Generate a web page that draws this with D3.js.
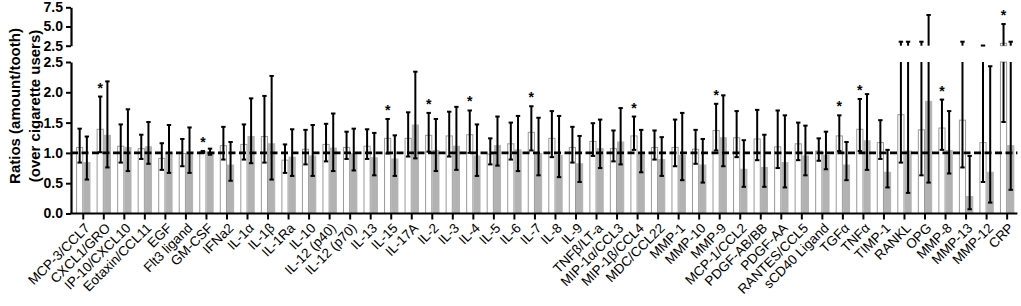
<!DOCTYPE html>
<html>
<head>
<meta charset="utf-8">
<script src="https://cdn.jsdelivr.net/npm/d3@7"></script>
<style>
  body { margin: 0; background: #fff; }
  svg { font-family: Arial, "Liberation Sans", sans-serif; }
</style>
</head>
<body>
<div id="chart"></div>
<script>
const categories = ["MCP-3/CCL7", "CXCL1/GRO", "IP-10/CXCL10", "Eotaxin/CCL11", "EGF", "Flt3 ligand",
  "GM-CSF", "IFNa2", "IL-1\u03b1", "IL-1\u03b2", "IL-1Ra", "IL-10", "IL-12 (p40)", "IL-12 (p70)", "IL-13",
  "IL-15", "IL-17A", "IL-2", "IL-3", "IL-4", "IL-5", "IL-6", "IL-7", "IL-8", "IL-9", "TNF\u03b2/LT-a",
  "MIP-1\u03b1/CCL3", "MIP-1\u03b2/CCL4", "MDC/CCL22", "MMP-1", "MMP-10", "MMP-9", "MCP-1/CCL2",
  "PDGF-AB/BB", "PDGF-AA", "RANTES/CCL5", "sCD40 Ligand", "TGF\u03b1", "TNF\u03b1", "TIMP-1", "RANKL",
  "OPG", "MMP-8", "MMP-13", "MMP-12", "CRP"];

// white bars (mean, lower and upper end of error bar)
const whiteMean = [1.09, 1.39, 1.11, 1.07, 0.91, 0.99, 1.02, 1.12, 1.14, 1.27, 0.88, 1.06, 1.14, 1.09, 1.11,
  1.24, 1.24, 1.29, 1.28, 1.30, 0.98, 1.15, 1.34, 1.24, 1.09, 1.19, 1.07, 1.28, 1.09, 1.09, 1.06, 1.37,
  1.25, 1.23, 1.10, 1.15, 1.03, 1.28, 1.39, 1.17, 1.63, 1.38, 1.41, 1.54, 1.17, 2.81];
const whiteLo = [0.84, 1.01, 0.84, 0.90, 0.72, 0.78, 1.00, 0.89, 0.89, 0.84, 0.67, 0.81, 0.86, 0.90, 0.90,
  0.99, 0.94, 1.02, 0.94, 1.00, 0.81, 0.89, 1.04, 0.93, 0.84, 0.95, 0.86, 1.05, 0.89, 0.78, 0.82, 1.04,
  0.93, 0.88, 0.75, 0.88, 0.87, 1.03, 1.03, 0.90, 0.84, 0.63, 1.05, 0.76, 0.52, 1.51];
const whiteHi = [1.40, 1.93, 1.47, 1.30, 1.16, 1.23, 1.03, 1.43, 1.47, 1.94, 1.14, 1.38, 1.48, 1.35, 1.39,
  1.56, 1.67, 1.66, 1.68, 1.70, 1.24, 1.50, 1.77, 1.69, 1.43, 1.49, 1.37, 1.60, 1.37, 1.55, 1.38, 1.81,
  1.69, 1.71, 1.70, 1.50, 1.24, 1.62, 1.89, 1.54, 3.02, 3.02, 1.88, 3.02, 2.52, 5.32];

// grey bars
const greyMean = [0.84, 1.29, 1.09, 1.10, 0.99, 0.98, 1.01, 0.80, 1.27, 1.15, 0.93, 0.95, 1.08, 0.99, 0.92,
  0.90, 1.46, 1.04, 1.11, 0.95, 1.12, 1.05, 0.99, 0.96, 0.82, 1.07, 1.18, 0.97, 0.89, 0.96, 0.80, 1.25,
  0.73, 0.76, 0.84, 0.95, 0.96, 0.80, 1.20, 0.68, 1.03, 1.85, 1.04, 0.28, 0.68, 1.12];
const greyLo = [0.56, 0.76, 0.70, 0.82, 0.67, 0.67, 0.97, 0.54, 0.83, 0.56, 0.62, 0.62, 0.70, 0.71, 0.63,
  0.62, 0.91, 0.70, 0.72, 0.62, 0.79, 0.70, 0.63, 0.60, 0.52, 0.75, 0.81, 0.68, 0.62, 0.55, 0.51, 0.78,
  0.44, 0.44, 0.43, 0.63, 0.73, 0.55, 0.72, 0.43, 0.34, 0.51, 0.66, 0.07, 0.18, 0.39];
const greyHi = [1.27, 2.18, 1.72, 1.51, 1.46, 1.42, 1.07, 1.18, 1.90, 2.27, 1.39, 1.46, 1.65, 1.40, 1.33,
  1.29, 2.34, 1.56, 1.76, 1.47, 1.60, 1.61, 1.58, 1.61, 1.28, 1.55, 1.74, 1.38, 1.26, 1.66, 1.23, 1.95,
  1.21, 1.30, 1.62, 1.45, 1.35, 1.18, 1.97, 1.05, 3.02, 6.50, 1.69, 0.95, 2.43, 3.02];

const starred = ["CXCL1/GRO", "GM-CSF", "IL-15", "IL-2", "IL-4", "IL-7", "MIP-1\u03b2/CCL4", "MMP-9",
  "TGF\u03b1", "TNF\u03b1", "MMP-8", "CRP"];

const lowTicks = [0, 0.5, 1.0, 1.5, 2.0, 2.5];
const highTicks = [2.5, 5.0, 7.5];
const refValue = 1.0;
const breakValue = 2.5;

const width = 1021, height = 306;
const axisX = 71;

const svg = d3.select("#chart").append("svg")
  .attr("width", width)
  .attr("height", height);

const x = d3.scaleBand()
  .domain(categories)
  .range([73, 1017.4])
  .paddingInner(0.3)
  .paddingOuter(0.15);

const xSub = d3.scaleBand()
  .domain(["white", "grey"])
  .range([0, x.bandwidth()]);

const yLow = d3.scaleLinear().domain([0, breakValue]).range([213.5, 62]);
const yHigh = d3.scaleLinear().domain([breakValue, 7.5]).range([45.7, 7.3]);

const rows = [];
categories.forEach((c, i) => {
  rows.push({ cat: c, s: "white", mean: whiteMean[i], lo: whiteLo[i], hi: whiteHi[i] });
  rows.push({ cat: c, s: "grey", mean: greyMean[i], lo: greyLo[i], hi: greyHi[i] });
});

const cx = d => x(d.cat) + xSub(d.s) + xSub.bandwidth() / 2;

// bars, lower segment
const barStyle = sel => sel
  .attr("fill", d => d.s === "white" ? "#fff" : "#b2b2b2")
  .attr("stroke", d => d.s === "white" ? "#999" : "#b2b2b2")
  .attr("stroke-width", 1);

svg.append("g").selectAll("rect")
  .data(rows)
  .join("rect")
  .attr("x", d => x(d.cat) + xSub(d.s) + 0.5)
  .attr("width", xSub.bandwidth() - 1)
  .attr("y", d => yLow(Math.min(d.mean, breakValue)))
  .attr("height", d => yLow(0) - yLow(Math.min(d.mean, breakValue)))
  .call(barStyle);

// bars, upper segment
svg.append("g").selectAll("rect")
  .data(rows.filter(d => d.mean > breakValue))
  .join("rect")
  .attr("x", d => x(d.cat) + xSub(d.s) + 0.5)
  .attr("width", xSub.bandwidth() - 1)
  .attr("y", d => yHigh(d.mean))
  .attr("height", d => yHigh(breakValue) - yHigh(d.mean))
  .call(barStyle);

// reference line at 1.0
svg.append("line")
  .attr("x1", axisX)
  .attr("x2", x.range()[1])
  .attr("y1", yLow(refValue))
  .attr("y2", yLow(refValue))
  .attr("stroke", "#000")
  .attr("stroke-width", 2.6)
  .attr("stroke-dasharray", "7,3.5");

// error bars
const err = svg.append("g").attr("stroke", "#000").attr("stroke-width", 2);
const capW = 2.2;

err.selectAll(".stem-low")
  .data(rows)
  .join("line")
  .attr("class", "stem-low")
  .attr("x1", cx).attr("x2", cx)
  .attr("y1", d => yLow(d.lo))
  .attr("y2", d => yLow(Math.min(d.hi, breakValue)));

err.selectAll(".stem-high")
  .data(rows.filter(d => d.hi > breakValue))
  .join("line")
  .attr("class", "stem-high")
  .attr("x1", cx).attr("x2", cx)
  .attr("y1", d => yHigh(Math.max(d.lo, breakValue)))
  .attr("y2", d => yHigh(d.hi));

err.selectAll(".cap-top")
  .data(rows)
  .join("line")
  .attr("class", "cap-top")
  .attr("x1", d => cx(d) - capW).attr("x2", d => cx(d) + capW)
  .attr("y1", d => d.hi > breakValue ? yHigh(d.hi) : yLow(d.hi))
  .attr("y2", d => d.hi > breakValue ? yHigh(d.hi) : yLow(d.hi));

err.selectAll(".cap-bot")
  .data(rows)
  .join("line")
  .attr("class", "cap-bot")
  .attr("x1", d => cx(d) - capW).attr("x2", d => cx(d) + capW)
  .attr("y1", d => yLow(d.lo))
  .attr("y2", d => yLow(d.lo));

// significance stars above the white bars
svg.append("g").selectAll("text")
  .data(rows.filter(d => d.s === "white" && starred.includes(d.cat)))
  .join("text")
  .attr("x", cx)
  .attr("y", d => (d.hi > breakValue ? yHigh(d.hi) : yLow(d.hi)) - 4)
  .attr("text-anchor", "middle")
  .attr("font-size", 14)
  .attr("font-weight", "bold")
  .text("*");

// axes
const styleAxis = g => {
  g.select(".domain").attr("stroke-width", 2.2);
  g.selectAll(".tick line").attr("stroke-width", 2);
};

const styleYText = g => g.selectAll("text")
  .attr("font-size", 14)
  .attr("font-weight", "bold")
  .attr("fill", "#000")
  .attr("font-family", "Arial, 'Liberation Sans', sans-serif");

svg.append("g")
  .attr("transform", `translate(${axisX},0)`)
  .call(d3.axisLeft(yLow).tickValues(lowTicks).tickFormat(d3.format(".1f")).tickSize(5).tickSizeOuter(0).tickPadding(3))
  .call(styleAxis)
  .call(styleYText);

svg.append("g")
  .attr("transform", `translate(${axisX},0)`)
  .call(d3.axisLeft(yHigh).tickValues(highTicks).tickFormat(d3.format(".1f")).tickSize(5).tickSizeOuter(0).tickPadding(3))
  .call(styleAxis)
  .call(styleYText);

svg.append("g")
  .attr("transform", `translate(0,${yLow(0)})`)
  .call(d3.axisBottom(x).tickSize(6).tickSizeOuter(0))
  .call(styleAxis)
  .call(g => g.select(".domain").attr("d", `M${axisX - 1},0H${x.range()[1]}`))
  .call(g => g.selectAll("text")
    .attr("font-size", 13.5)
    .attr("font-family", "Arial, 'Liberation Sans', sans-serif")
    .attr("fill", "#000")
    .attr("text-anchor", "end")
    .attr("x", 0).attr("y", 0).attr("dy", "0.35em")
    .attr("transform", "translate(4,12) rotate(-45)"));

// y title
const title = svg.append("g")
  .attr("font-size", 15)
  .attr("font-weight", "bold")
  .attr("text-anchor", "middle");
title.append("text")
  .attr("transform", "translate(20,106) rotate(-90)")
  .text("Ratios (amount/tooth)");
title.append("text")
  .attr("transform", "translate(40,106) rotate(-90)")
  .text("(over cigarette users)");
</script>
</body>
</html>
